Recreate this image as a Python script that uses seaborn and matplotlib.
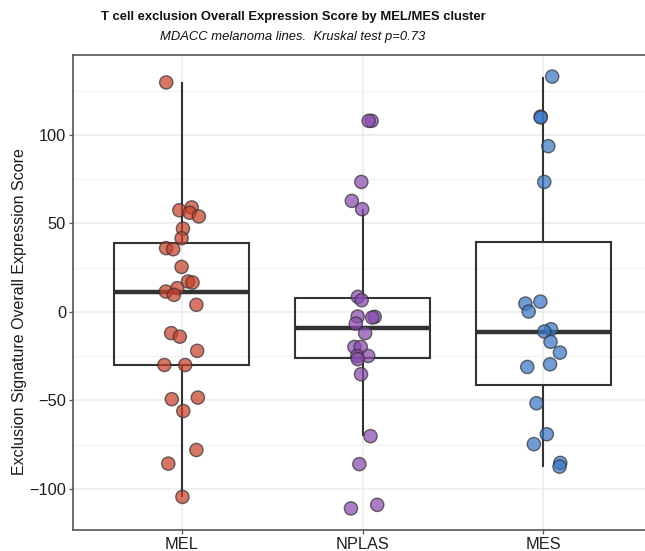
import numpy as np
import pandas as pd
import matplotlib
matplotlib.use("Agg")
import matplotlib.pyplot as plt
from matplotlib.ticker import MultipleLocator
import seaborn as sns

# Exclusion signature scores per MEL/MES cluster
clusters = ["MEL", "NPLAS", "MES"]
mel = [129.6, 59.0, 57.4, 56.0, 53.9, 47.0, 41.6, 36.0, 35.4, 25.4, 17.2, 16.6,
       13.4, 11.5, 9.6, 4.0, -12.0, -14.0, -22.0, -30.0, -30.0, -48.4, -49.3,
       -56.0, -78.0, -85.7, -104.5]
nplas = [107.9, 107.9, 73.4, 62.7, 58.0, 8.5, 6.6, -2.6, -2.8, -3.2, -6.6,
         -12.0, -19.8, -19.8, -24.9, -24.9, -26.7, -35.2, -70.2, -86.0,
         -109.0, -111.0]
mes = [132.9, 110.3, 109.8, 93.6, 73.4, 5.8, 4.7, 0.2, -9.8, -11.1, -16.9,
       -23.0, -29.6, -31.1, -51.6, -69.1, -74.7, -85.3, -87.4]
palette = {"MEL": "#C8412A", "NPLAS": "#8A4AB0", "MES": "#3A78C8"}

df = pd.DataFrame({
    "cluster": ["MEL"] * len(mel) + ["NPLAS"] * len(nplas) + ["MES"] * len(mes),
    "score": mel + nplas + mes,
})

sns.set_theme(style="white")
plt.rcParams["font.family"] = ["Liberation Sans", "DejaVu Sans"]

fig = plt.figure(figsize=(6.45, 5.51), dpi=100)
ax = fig.add_axes([73 / 645, 21 / 551, 579 / 645, 475 / 551])

line_col = "#333333"
sns.boxplot(data=df, x="cluster", y="score", order=clusters, ax=ax,
            width=0.75, showfliers=False, showcaps=False,
            boxprops=dict(facecolor="none", edgecolor=line_col, linewidth=1.5),
            whiskerprops=dict(color=line_col, linewidth=1.5),
            medianprops=dict(color=line_col, linewidth=3.2),
            zorder=2)

np.random.seed(7)
sns.stripplot(data=df, x="cluster", y="score", order=clusters, hue="cluster",
              palette=palette, legend=False, jitter=0.1, size=9.5, alpha=0.72,
              edgecolor=line_col, linewidth=1.0, ax=ax, zorder=3)

# ggplot-style 5% padding on the score axis, 0.6 on the discrete axis
lo, hi = df["score"].min(), df["score"].max()
pad = 0.05 * (hi - lo)
ax.set_ylim(lo - pad, hi + pad)
ax.set_xlim(-0.6, 2.6)

ax.yaxis.set_major_locator(MultipleLocator(50))
ax.yaxis.set_minor_locator(MultipleLocator(25))
ax.grid(which="major", color="#EBEBEB", linewidth=1.1, zorder=0)
ax.grid(which="minor", axis="y", color="#F2F2F2", linewidth=0.9, zorder=0)
ax.set_axisbelow(True)

for side in ["left", "bottom", "top", "right"]:
    ax.spines[side].set_color("#555555")
    ax.spines[side].set_linewidth(1.2)

ax.tick_params(axis="both", which="major", length=3, width=0.9,
               color="#555555", labelsize=11.8, labelcolor="#1f1f1f", pad=2,
               left=True, bottom=True)
ax.tick_params(axis="y", which="minor", length=0)

ax.set_xlabel("")
ax.set_ylabel("Exclusion Signature Overall Expression Score", fontsize=11.5,
              color="#1a1a1a")
ax.yaxis.set_label_coords(-0.0795, 0.459)

fig.text(293 / 645, 1 - 17 / 551,
         "T cell exclusion Overall Expression Score by MEL/MES cluster",
         ha="center", va="center", fontsize=9.4, fontweight="bold",
         color="#111111")
fig.text(293 / 645, 1 - 37 / 551,
         "MDACC melanoma lines.  Kruskal test p=0.73",
         ha="center", va="center", fontsize=9.4, style="italic",
         color="#111111")

fig.savefig("out.png", dpi=100)
